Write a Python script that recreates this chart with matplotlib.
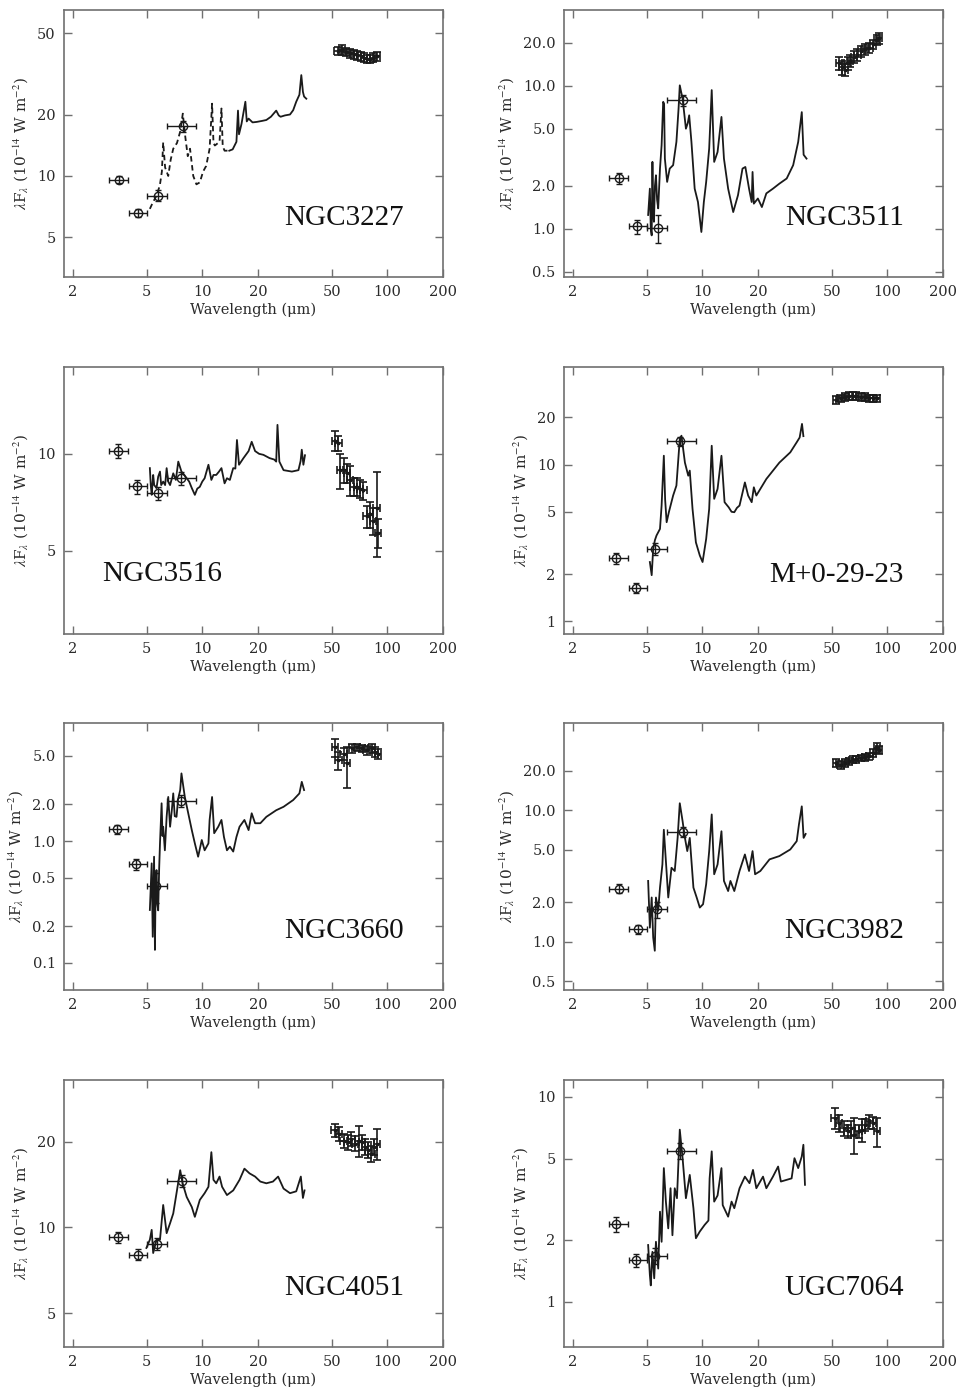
import matplotlib
matplotlib.use("Agg")
import matplotlib.pyplot as plt
import numpy as np
from matplotlib.ticker import FixedLocator, FixedFormatter, NullLocator

plt.rcParams['mathtext.fontset'] = 'stix'
plt.rcParams['font.family'] = ['DejaVu Serif']

# IRAC band edges (horizontal error bars)
irac_lo = [3.15, 4.0, 5.05, 6.45]
irac_hi = [3.95, 5.05, 6.45, 9.3]

x_ticks = [2, 5, 10, 20, 50, 100, 200]
x_labels = ['2', '5', '10', '20', '50', '100', '200']

# ---------------- NGC3227 ----------------
ngc3227_spec = [(5.21, 6.9), (5.4, 7.4), (5.66, 8.0), (5.9, 9.0), (6.05, 10.5), (6.15, 14.6), (6.3, 11.0),
                (6.55, 10.0), (6.75, 12.0), (6.97, 13.6), (7.3, 14.5), (7.6, 16.5), (7.85, 20.2), (8.1, 15.5),
                (8.35, 12.5), (8.59, 13.6), (8.94, 10.0), (9.3, 9.1), (9.7, 9.3), (10.1, 10.5), (10.5, 11.2),
                (10.96, 13.6), (11.3, 22.6), (11.5, 14.5), (11.7, 14.1), (12.4, 14.7), (12.7, 21.4), (12.9, 14.0),
                (13.2, 13.3), (14.0, 13.3), (14.6, 13.5), (15.3, 14.7), (15.6, 20.9), (15.8, 16.0), (16.3, 18.0),
                (17.1, 23.1), (17.4, 18.5), (17.8, 19.1), (18.7, 18.3), (19.7, 18.4), (21.0, 18.6), (22.2, 18.8),
                (23.5, 19.5), (25.1, 20.9), (25.9, 19.8), (26.5, 19.5), (28.0, 19.8), (29.8, 20.0), (31.0, 21.0),
                (32.2, 23.1), (33.5, 25.0), (34.3, 31.2), (35.0, 25.8), (35.5, 24.5), (36.5, 23.9)]
ngc3227_irac = [(3.55, 9.6, 0.4), (4.5, 6.6, 0.3), (5.75, 8.0, 0.5), (7.9, 17.5, 1.0)]
ngc3227_fir = [(54, 41, 2.0), (57, 41.5, 2.2), (60, 40.5, 2.0), (63, 40, 2.0), (66, 39.5, 2.0), (69, 39, 2.0),
               (72, 38.5, 2.0), (75, 38, 2.0), (78, 37.5, 1.8), (81, 37.5, 1.8), (84, 38, 2.0), (88, 38.5, 2.0)]

# ---------------- NGC3511 ----------------
ngc3511_spec = [(5.1, 1.25), (5.21, 1.91), (5.27, 1.0), (5.33, 0.9), (5.38, 2.94), (5.43, 1.3), (5.48, 1.12),
                (5.55, 2.0), (5.62, 2.37), (5.7, 1.6), (5.78, 1.39), (5.91, 2.64), (6.03, 3.85), (6.15, 7.74),
                (6.22, 7.5), (6.28, 3.1), (6.46, 2.13), (6.67, 2.64), (6.96, 2.79), (7.25, 4.06), (7.45, 7.0),
                (7.56, 10.1), (7.7, 9.0), (7.83, 8.17), (8.16, 5.02), (8.35, 5.5), (8.5, 6.23), (8.74, 4.06),
                (9.1, 1.91), (9.48, 1.54), (9.89, 0.95), (10.2, 1.54), (10.5, 2.13), (10.9, 3.65), (11.25, 9.35),
                (11.6, 2.94), (12.1, 3.45), (12.7, 6.07), (13.1, 3.1), (13.8, 1.91), (14.7, 1.31), (15.6, 1.72),
                (16.5, 2.64), (17.1, 2.71), (17.9, 1.91), (18.5, 1.54), (18.7, 2.5), (19.0, 1.5), (19.98, 1.63),
                (21.0, 1.42), (22.2, 1.77), (24.1, 1.91), (26.1, 2.07), (28.6, 2.25), (31.0, 2.79), (33.0, 4.06),
                (34.5, 6.56), (35.3, 3.3), (36.6, 3.1)]
ngc3511_irac = [(3.56, 2.27, 0.2), (4.46, 1.04, 0.12), (5.74, 1.02, 0.22), (7.85, 7.93, 0.7)]
ngc3511_fir = [(55, 14.5, 1.5), (57, 13.5, 1.5), (59, 13, 1.2), (61, 14.5, 1.5), (63, 15, 1.5), (66, 16, 1.5),
               (69, 16.5, 1.5), (72, 17.5, 1.5), (76, 18, 1.5), (80, 18.5, 1.5), (84, 19.5, 1.5), (88, 21, 1.8),
               (90, 21.5, 1.8)]

# ---------------- NGC3516 ----------------
ngc3516_spec = [(5.21, 9.03), (5.27, 8.0), (5.33, 7.46), (5.43, 8.6), (5.5, 8.0), (5.66, 7.83), (5.78, 8.5),
                (5.91, 8.81), (6.0, 8.0), (6.15, 8.2), (6.3, 8.0), (6.42, 9.03), (6.55, 8.2), (6.7, 8.0),
                (6.97, 8.7), (7.2, 8.3), (7.42, 9.46), (7.72, 8.81), (8.0, 8.6), (8.24, 8.4), (8.5, 8.2),
                (8.78, 7.83), (9.12, 7.46), (9.4, 7.8), (9.7, 7.9), (10.0, 8.2), (10.3, 8.4), (10.8, 9.25),
                (11.2, 8.3), (11.5, 8.6), (11.9, 8.6), (12.3, 8.8), (12.7, 9.03), (13.2, 8.1), (13.6, 8.4),
                (14.1, 8.3), (14.7, 9.03), (15.1, 9.0), (15.4, 11.04), (15.8, 9.25), (16.7, 9.7), (17.8, 10.2),
                (18.5, 10.9), (19.3, 10.2), (20.3, 10.0), (21.4, 9.93), (23.1, 9.7), (24.5, 9.6), (25.1, 9.46),
                (25.5, 12.3), (26.1, 9.46), (27.5, 8.9), (30.5, 8.81), (33.1, 8.9), (34.0, 9.5), (34.5, 10.3),
                (35.2, 9.25), (35.9, 9.9)]
ngc3516_irac = [(3.51, 10.2, 0.5), (4.45, 7.92, 0.4), (5.78, 7.55, 0.35), (7.72, 8.4, 0.4)]
ngc3516_fir = [(52.2, 11.0, 0.8), (54.4, 10.8, 0.6), (55.7, 8.9, 1.1), (58, 8.9, 0.8), (60.5, 8.7, 0.6),
               (63, 8.3, 0.9), (65.8, 7.9, 0.5), (68.5, 7.9, 0.5), (71.3, 7.8, 0.5), (74.3, 7.7, 0.5),
               (77.4, 6.4, 0.5), (80.6, 6.5, 0.6), (84, 6.2, 0.6), (87.6, 6.8, 2.0), (89, 5.7, 0.6)]

# ---------------- M+0-29-23 ----------------
m02923_spec = [(5.21, 2.39), (5.33, 1.97), (5.43, 2.9), (5.55, 3.3), (5.66, 3.53), (5.91, 3.89), (6.03, 5.48),
               (6.2, 11.4), (6.3, 6.0), (6.42, 4.29), (6.6, 4.97), (6.96, 6.35), (7.25, 7.35), (7.56, 14.6),
               (7.72, 15.3), (8.06, 10.3), (8.4, 8.5), (8.56, 9.16), (8.86, 5.22), (9.24, 3.19), (9.7, 2.63),
               (10.04, 2.39), (10.5, 3.36), (10.9, 5.22), (11.25, 13.2), (11.6, 6.05), (12.1, 7.0), (12.7, 11.4),
               (13.2, 5.76), (13.9, 5.34), (14.4, 5.0), (14.9, 4.97), (15.4, 5.3), (15.9, 5.48), (17.0, 7.7),
               (17.7, 6.35), (18.5, 5.76), (19.0, 7.17), (19.6, 6.35), (22.2, 8.1), (26.1, 10.3), (29.9, 11.98),
               (32.4, 13.9), (33.6, 14.9), (34.6, 18.2), (35.2, 15.2)]
m02923_irac = [(3.44, 2.53, 0.2), (4.36, 1.64, 0.12), (5.54, 2.9, 0.25), (7.56, 14.1, 1.0)]
m02923_fir = [(53, 26, 1.5), (56, 26.5, 1.5), (59, 27, 1.5), (62, 27.5, 1.5), (65, 27.5, 1.5), (68, 27.5, 1.5),
              (72, 27, 1.5), (76, 27, 1.5), (80, 26.5, 1.5), (84, 26.5, 1.5), (88, 26.5, 1.5)]

# ---------------- NGC3660 ----------------
ngc3660_spec = [(5.21, 0.272), (5.33, 0.656), (5.4, 0.164), (5.49, 0.744), (5.55, 0.128), (5.6, 0.45),
                (5.66, 0.578), (5.72, 0.3), (5.78, 0.27), (5.85, 0.6), (5.91, 0.957), (6.03, 2.04), (6.1, 1.1),
                (6.15, 1.31), (6.28, 0.84), (6.42, 1.58), (6.55, 2.3), (6.7, 1.31), (6.85, 1.8), (6.97, 2.46),
                (7.1, 1.6), (7.26, 1.58), (7.4, 2.2), (7.6, 2.62), (7.72, 3.59), (7.9, 2.8), (8.05, 2.3),
                (8.4, 1.69), (8.78, 1.23), (9.12, 0.957), (9.5, 0.744), (9.94, 1.02), (10.3, 0.84), (10.8, 0.957),
                (10.96, 1.49), (11.3, 2.3), (11.6, 1.16), (12.2, 1.31), (12.7, 1.49), (13.1, 1.08), (13.6, 0.84),
                (14.1, 0.9), (14.7, 0.82), (15.3, 1.08), (15.9, 1.31), (16.9, 1.49), (17.8, 1.23), (18.5, 1.69),
                (19.3, 1.4), (20.6, 1.4), (22.2, 1.58), (25.1, 1.79), (27.5, 1.91), (31.0, 2.17), (33.5, 2.46),
                (34.5, 3.06), (35.5, 2.62)]
ngc3660_irac = [(3.45, 1.25, 0.1), (4.41, 0.644, 0.07), (5.6, 0.43, 0.12), (7.72, 2.14, 0.25)]
ngc3660_fir = [(52.2, 5.86, 1.0), (54.4, 4.6, 0.8), (58, 5.2, 0.6), (60.5, 4.34, 1.6), (64.5, 5.75, 0.5),
               (68.5, 5.9, 0.4), (72.9, 5.75, 0.4), (77.4, 5.57, 0.5), (82.3, 5.75, 0.5), (85.6, 5.4, 0.5),
               (89, 5.2, 0.5)]

# ---------------- NGC3982 ----------------
ngc3982_spec = [(5.1, 2.9), (5.21, 1.28), (5.33, 2.17), (5.43, 1.08), (5.54, 0.855), (5.62, 2.17), (5.78, 1.72),
                (5.91, 2.58), (6.09, 3.87), (6.2, 7.1), (6.36, 4.11), (6.55, 2.17), (6.82, 3.65), (7.1, 3.45),
                (7.36, 6.16), (7.56, 11.3), (7.83, 8.25), (8.06, 6.16), (8.3, 4.89), (8.56, 6.16), (8.96, 2.58),
                (9.33, 2.17), (9.7, 1.82), (10.1, 1.93), (10.5, 2.74), (10.9, 4.89), (11.25, 9.28), (11.6, 3.26),
                (12.1, 3.87), (12.7, 6.92), (13.1, 2.9), (13.8, 2.43), (14.2, 2.9), (14.9, 2.43), (15.9, 3.45),
                (17.0, 4.61), (17.9, 3.45), (18.7, 4.89), (19.3, 3.26), (20.6, 3.45), (23.1, 4.23), (26.1, 4.48),
                (29.9, 5.03), (32.4, 5.82), (33.3, 7.77), (34.5, 10.7), (35.3, 6.16), (36.2, 6.6)]
ngc3982_irac = [(3.56, 2.53, 0.2), (4.49, 1.25, 0.1), (5.66, 1.77, 0.25), (7.87, 6.85, 0.6)]
ngc3982_fir = [(53, 22.8, 1.5), (56, 22.1, 1.5), (59, 22.8, 1.5), (62, 23.5, 1.5), (65, 24.2, 1.5),
               (68, 24.5, 1.5), (72, 25, 1.5), (76, 25.3, 1.5), (80, 25.7, 1.5), (84, 27.2, 1.8),
               (88, 29.7, 2.5), (90, 28.9, 2.0)]

# ---------------- NGC4051 ----------------
ngc4051_spec = [(4.99, 8.47), (5.21, 9.06), (5.33, 9.81), (5.43, 8.13), (5.66, 9.06), (5.91, 9.06), (6.15, 12.0),
                (6.42, 9.55), (6.7, 10.35), (6.97, 11.2), (7.26, 13.2), (7.6, 15.9), (7.83, 14.3), (8.24, 12.8),
                (8.78, 11.8), (9.12, 10.9), (9.7, 12.5), (10.3, 13.2), (10.8, 13.9), (11.2, 18.4), (11.5, 14.7),
                (11.9, 14.3), (12.4, 15.1), (12.8, 13.9), (13.6, 13.0), (14.7, 13.5), (15.9, 14.7), (16.9, 16.1),
                (18.0, 15.5), (19.3, 15.1), (20.6, 14.5), (22.2, 14.3), (24.1, 14.5), (25.7, 15.1), (27.5, 13.7),
                (29.8, 13.2), (32.2, 13.4), (34.1, 15.1), (35.0, 12.7), (35.7, 13.5)]
ngc4051_irac = [(3.51, 9.23, 0.4), (4.5, 8.03, 0.35), (5.66, 8.75, 0.4), (7.78, 14.6, 0.7)]
ngc4051_fir = [(52, 22.0, 1.2), (55, 21.4, 1.2), (58, 20.2, 1.2), (61, 20.0, 1.2), (64, 20.5, 1.2),
               (67, 19.7, 1.2), (70, 20.2, 2.5), (73, 20.0, 1.2), (76, 19.2, 1.2), (79, 18.7, 1.2),
               (82, 18.2, 1.2), (85, 19.2, 1.2), (88, 19.7, 2.5)]

# ---------------- UGC7064 ----------------
ugc7064_spec = [(5.1, 1.89), (5.21, 1.35), (5.27, 1.2), (5.38, 1.75), (5.5, 1.3), (5.62, 1.96), (5.78, 1.45),
                (5.91, 2.75), (6.03, 1.96), (6.2, 4.49), (6.36, 3.08), (6.55, 2.28), (6.74, 3.58), (6.9, 2.11),
                (7.1, 3.58), (7.3, 3.2), (7.56, 6.92), (7.83, 5.02), (8.16, 3.2), (8.56, 4.16), (8.96, 2.86),
                (9.24, 2.04), (9.7, 2.2), (10.3, 2.37), (10.8, 2.49), (10.96, 4.0), (11.25, 5.42), (11.6, 3.08),
                (12.1, 3.3), (12.7, 4.49), (12.9, 2.96), (13.8, 2.6), (14.4, 3.08), (14.9, 2.86), (15.9, 3.58),
                (17.0, 4.08), (18.0, 3.79), (18.8, 4.4), (19.6, 3.58), (21.3, 4.08), (22.2, 3.58), (24.1, 4.08),
                (25.7, 4.57), (26.6, 3.86), (30.4, 4.0), (31.5, 5.02), (33.0, 4.49), (34.5, 5.12), (35.2, 5.84),
                (35.9, 3.72)]
ugc7064_irac = [(3.44, 2.39, 0.2), (4.36, 1.59, 0.12), (5.54, 1.67, 0.15), (7.56, 5.46, 0.5)]
ugc7064_fir = [(52, 7.89, 0.9), (55, 7.45, 0.7), (58, 7.05, 0.6), (61, 6.79, 0.5), (64, 7.05, 0.6),
               (66, 6.55, 1.3), (70, 6.79, 0.5), (73, 6.9, 0.9), (76, 7.3, 0.5), (80, 7.6, 0.6),
               (84, 7.45, 0.5), (88, 6.79, 1.1)]

# panel setup: name, spectrum, irac, fir, ylim, yticks, yticklabels, name placement, dashed SL part
panels = [
    ('NGC3227', ngc3227_spec, ngc3227_irac, ngc3227_fir, (3.2, 65), [5, 10, 20, 50], ['5', '10', '20', '50'], 'right', 14.0),
    ('NGC3511', ngc3511_spec, ngc3511_irac, ngc3511_fir, (0.46, 34), [0.5, 1, 2, 5, 10, 20],
     ['0.5', '1.0', '2.0', '5.0', '10.0', '20.0'], 'right', None),
    ('NGC3516', ngc3516_spec, ngc3516_irac, ngc3516_fir, (2.76, 18.6), [5, 10], ['5', '10'], 'left', None),
    ('M+0-29-23', m02923_spec, m02923_irac, m02923_fir, (0.83, 42), [1, 2, 5, 10, 20], ['1', '2', '5', '10', '20'], 'right', None),
    ('NGC3660', ngc3660_spec, ngc3660_irac, ngc3660_fir, (0.06, 9.3), [0.1, 0.2, 0.5, 1, 2, 5],
     ['0.1', '0.2', '0.5', '1.0', '2.0', '5.0'], 'right', None),
    ('NGC3982', ngc3982_spec, ngc3982_irac, ngc3982_fir, (0.43, 46), [0.5, 1, 2, 5, 10, 20],
     ['0.5', '1.0', '2.0', '5.0', '10.0', '20.0'], 'right', None),
    ('NGC4051', ngc4051_spec, ngc4051_irac, ngc4051_fir, (3.8, 33), [5, 10, 20], ['5', '10', '20'], 'right', None),
    ('UGC7064', ugc7064_spec, ugc7064_irac, ugc7064_fir, (0.6, 12.1), [1, 2, 5, 10], ['1', '2', '5', '10'], 'right', None),
]

fig = plt.figure(figsize=(9.61, 13.99), dpi=100)

col_left = [64 / 961, 564 / 961]
row_bottom = [1 - 277 / 1399, 1 - 634 / 1399, 1 - 990 / 1399, 1 - 1347 / 1399]
ax_w = 379 / 961
ax_h = 267 / 1399

frame_col = '#707070'
ink = '#1a1a1a'

for i, (name, spec, irac, fir, ylim, yt, ytl, side, dash_end) in enumerate(panels):
    r, c = divmod(i, 2)
    ax = fig.add_axes([col_left[c], row_bottom[r], ax_w, ax_h])
    ax.set_xscale('log')
    ax.set_yscale('log')

    sw, sf = np.array(spec).T
    if dash_end is None:
        ax.plot(sw, sf, color=ink, lw=1.3)
    else:
        m = sw <= dash_end
        ax.plot(sw[m], sf[m], color=ink, lw=1.3, ls=(0, (3, 2)))
        k = np.argmax(~m) - 1
        ax.plot(sw[k:], sf[k:], color=ink, lw=1.3)

    iw, iflux, ie = np.array(irac).T
    xerr = [iw - np.array(irac_lo), np.array(irac_hi) - iw]
    ax.errorbar(iw, iflux, xerr=xerr, yerr=ie, fmt='o', mfc='none', mec=ink, ms=6, mew=1.0,
                ecolor=ink, elinewidth=1.0, capsize=2.5, capthick=1.0, zorder=4)

    fw, ff, fe = np.array(fir).T
    ax.errorbar(fw, ff, xerr=0.04 * fw, yerr=fe, fmt='s', ms=2, mfc=ink, mec=ink,
                ecolor=ink, elinewidth=1.2, capsize=3, capthick=1.2, zorder=3)

    ax.set_xlim(1.79, 200)
    ax.set_ylim(*ylim)
    ax.xaxis.set_major_locator(FixedLocator(x_ticks))
    ax.xaxis.set_major_formatter(FixedFormatter(x_labels))
    ax.xaxis.set_minor_locator(NullLocator())
    ax.yaxis.set_major_locator(FixedLocator(yt))
    ax.yaxis.set_major_formatter(FixedFormatter(ytl))
    ax.yaxis.set_minor_locator(NullLocator())

    ax.tick_params(which='major', direction='in', length=6, width=1.0, color=frame_col,
                   top=True, right=True, labelsize=10.5, labelcolor='#2a2a2a', pad=6)
    for sp in ax.spines.values():
        sp.set_color(frame_col)
        sp.set_linewidth(1.2)

    ax.set_xlabel('Wavelength (\u03bcm)', fontsize=10.5, color='#2a2a2a', labelpad=2)
    ax.set_ylabel(r'$\lambda$F$_\lambda$ (10$^{-14}$ W m$^{-2}$)', fontsize=11, color='#2a2a2a', labelpad=5)

    if side == 'right':
        ax.text(0.897, 0.195, name, transform=ax.transAxes, ha='right', va='baseline',
                fontsize=21, family='Liberation Serif', color='#111111')
    else:
        ax.text(0.10, 0.20, name, transform=ax.transAxes, ha='left', va='baseline',
                fontsize=21, family='Liberation Serif', color='#111111')

fig.savefig('out.png', dpi=100)
